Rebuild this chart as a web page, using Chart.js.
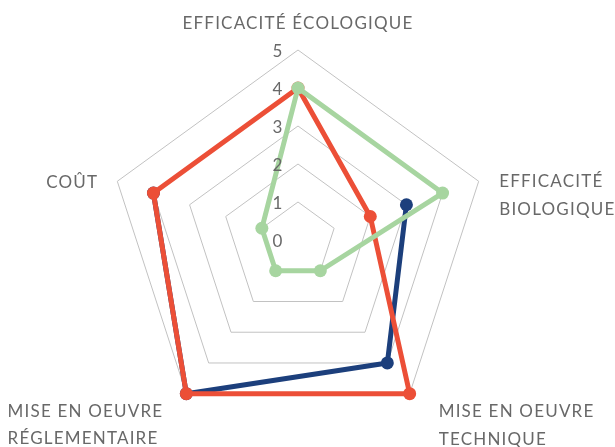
<!DOCTYPE html>
<html lang="fr">
<head>
<meta charset="utf-8">
<title>Évaluation des solutions</title>
<script src="https://cdn.jsdelivr.net/npm/chart.js@4.4.1/dist/chart.umd.min.js"></script>
<style>
  html, body { margin: 0; padding: 0; background: #ffffff; }
  #cadre { width: 615px; height: 447px; position: relative; }
</style>
</head>
<body>
<div id="cadre"><canvas id="radar"></canvas></div>
<script>
// Critères (dans l'ordre horaire à partir du haut)
const criteres = [
    ["EFFICACITÉ ÉCOLOGIQUE"],
    ["EFFICACITÉ", "BIOLOGIQUE"],
    ["MISE EN OEUVRE", "TECHNIQUE"],
    ["MISE EN OEUVRE", "RÉGLEMENTAIRE"],
    ["COÛT"]
];

// Notes de chaque solution (0 à 5)
const notesVert = [4, 4, 1, 1, 1];
const notesRouge = [4, 2, 5, 5, 4];
const notesBleu = [null, 3, 4, 5, 4];

// Graduations de l'échelle
const graduations = [0, 1, 2, 3, 4, 5];

const grisTexte = "#686868";
const police = "17px Lato, 'Open Sans', sans-serif";

// Étiquettes des axes et des graduations dessinées à la main
const etiquettesRadar = {
    id: "etiquettesRadar",
    afterDraw(chart) {
        const ctx = chart.ctx;
        const r = chart.scales.r;
        ctx.save();
        ctx.font = police;
        ctx.fillStyle = grisTexte;
        ctx.letterSpacing = "1.2px";

        // graduations à gauche de l'axe vertical
        ctx.textAlign = "center";
        ctx.textBaseline = "middle";
        for (let i = 0; i < graduations.length; i++) {
            let d = r.getDistanceFromCenterForValue(graduations[i]);
            ctx.fillText(String(graduations[i]), r.xCenter - 20, r.yCenter - d + 2);
        }

        // noms des critères autour du pentagone
        ctx.textBaseline = "alphabetic";
        const interligne = 27.5;
        for (let i = 0; i < criteres.length; i++) {
            let p = r.getPointPositionForValue(i, graduations[graduations.length - 1]);
            let lignes = criteres[i];
            let x, y;
            if (i === 0) {
                ctx.textAlign = "center";
                x = p.x;
                y = p.y - 21.5;
            } else if (i === 1) {
                ctx.textAlign = "left";
                x = p.x + 20.5;
                y = p.y + 6;
            } else if (i === 2) {
                ctx.textAlign = "left";
                x = p.x + 29;
                y = p.y + 23.5;
            } else if (i === 3) {
                ctx.textAlign = "left";
                let largeur = Math.max(...lignes.map(l => ctx.measureText(l).width));
                x = p.x - 23 - largeur;
                y = p.y + 23;
            } else {
                ctx.textAlign = "right";
                x = p.x - 19;
                y = p.y + 6.5;
            }
            for (let k = 0; k < lignes.length; k++) {
                ctx.fillText(lignes[k], x, y + k * interligne);
            }
        }
        ctx.restore();
    }
};

function serie(valeurs, couleur) {
    return {
        data: valeurs,
        borderColor: couleur,
        backgroundColor: couleur,
        pointBackgroundColor: couleur,
        pointBorderWidth: 0,
        pointRadius: 6.5,
        borderWidth: 5,
        fill: false,
        spanGaps: false
    };
}

const ctx = document.getElementById("radar").getContext("2d");
const chart = new Chart(ctx, {
    type: "radar",
    data: {
        labels: criteres,
        datasets: [
            serie(notesVert, "#a7d5a0"),
            serie(notesRouge, "#ec4f37"),
            serie(notesBleu, "#1c3f7c")
        ]
    },
    options: {
        responsive: true,
        maintainAspectRatio: false,
        animation: false,
        layout: { padding: { top: 50, bottom: 17, left: 0, right: 19 } },
        elements: { line: { tension: 0, borderJoinStyle: "round" } },
        plugins: {
            legend: { display: false },
            tooltip: { enabled: false }
        },
        scales: {
            r: {
                min: 0,
                max: 5,
                ticks: { stepSize: 1, display: false },
                grid: { color: "#c2c2c2", lineWidth: 1 },
                angleLines: { display: false },
                pointLabels: { display: false }
            }
        }
    },
    plugins: [etiquettesRadar]
});
</script>
</body>
</html>
